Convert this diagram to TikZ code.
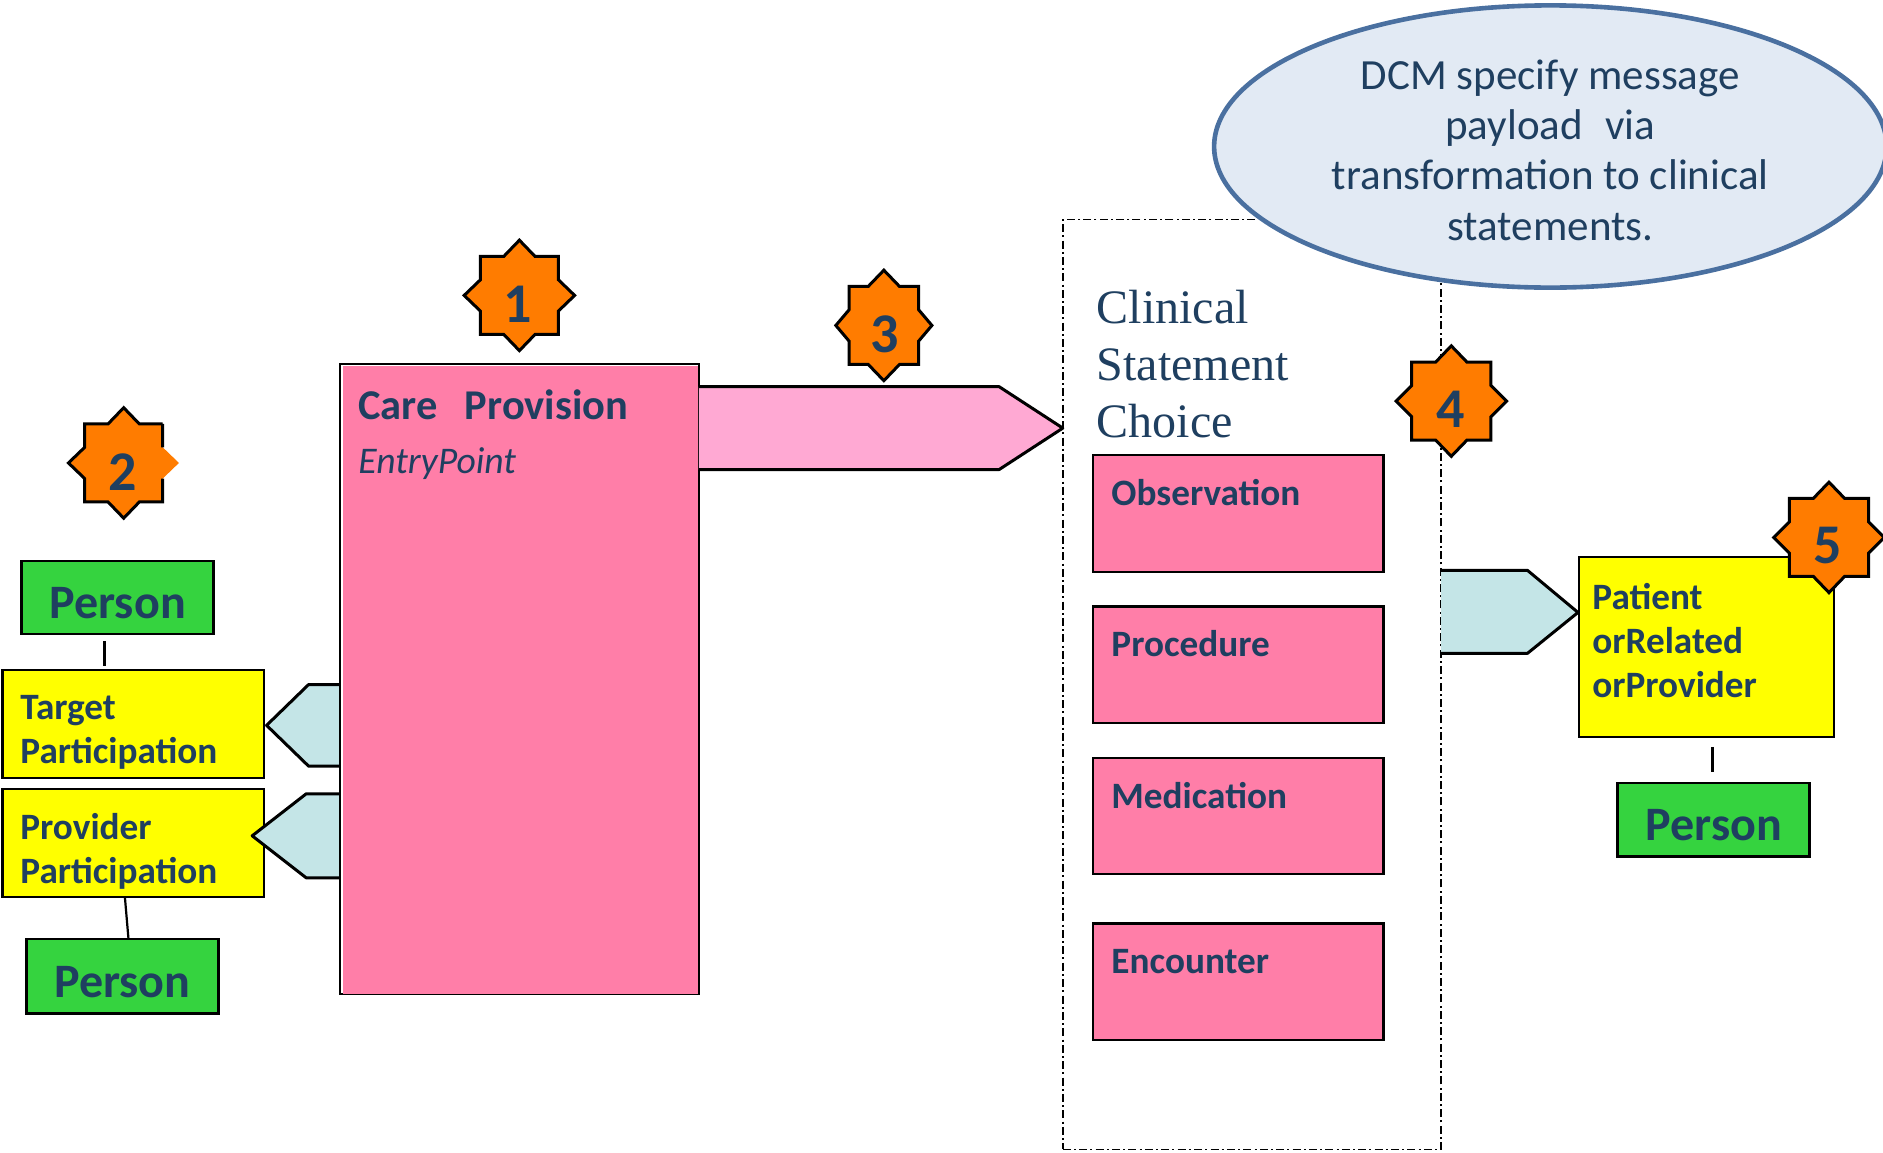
\documentclass[tikz,border=0pt]{standalone}
\usepackage{fontspec}
\usetikzlibrary{shapes.geometric}
\setmainfont{Carlito}
\newfontfamily\serifface{Liberation Serif}
\definecolor{inkblue}{HTML}{1F3F60}
\definecolor{carepink}{HTML}{FF7EA8}
\definecolor{lightpink}{HTML}{FFA9D3}
\definecolor{paleteal}{HTML}{C4E5E7}
\definecolor{persongreen}{HTML}{35D33F}
\definecolor{badgeorange}{HTML}{FF7C00}
\definecolor{calloutfill}{HTML}{E2EAF4}
\definecolor{calloutline}{HTML}{4A70A0}
\definecolor{boxyellow}{HTML}{FFFF00}
\tikzset{
  x=0.6pt,y=-0.6pt,
  pinkbox/.style={draw=black,fill=carepink,line width=1.1pt},
  yellowbox/.style={draw=black,fill=boxyellow,line width=1.1pt},
  personbox/.style={draw=black,fill=persongreen,line width=1.3pt,text=inkblue,font=\fontsize{24}{26}\selectfont\bfseries},
  boxlabel/.style={inner sep=0pt,outer sep=0pt,anchor=base west,text=inkblue,font=\fontsize{18.6}{20}\selectfont\bfseries},
  twolabel/.style={inner sep=0pt,outer sep=0pt,anchor=north west,align=left,text=inkblue,font=\fontsize{18.6}{22}\selectfont\bfseries},
  arrowedge/.style={draw=black,line width=1.5pt,line join=round},
  badge/.style={draw=black,line width=1.5pt,fill=badgeorange,line join=miter},
  digit/.style={inner sep=0pt,text=inkblue,font=\fontsize{28}{30}\selectfont\bfseries},
  link/.style={draw=black,line width=1.1pt}
}
% name, style, x1, y1, x2, y2, text
\newcommand{\bx}[7]{\node[#2,inner sep=0pt,outer sep=0pt,rectangle,minimum width={(#5-#3)*0.6pt},minimum height={(#6-#4)*0.6pt},anchor=north west] (#1) at (#3,#4) {#7};}
\newcommand{\personword}{\raisebox{-10.5pt}[0pt][0pt]{Person}}
% cx, cy, half width of tips, half of square width
\newcommand{\starpath}[4]{(#1,#2-46) -- (#1+13,#2-32.5) -- (#1+#4,#2-32.5) -- (#1+#4,#2-13) -- (#1+#3,#2) -- (#1+#4,#2+13) -- (#1+#4,#2+32.5) -- (#1+13,#2+32.5) -- (#1,#2+46) -- (#1-13,#2+32.5) -- (#1-#4,#2+32.5) -- (#1-#4,#2+13) -- (#1-#3,#2) -- (#1-#4,#2-13) -- (#1-#4,#2-32.5) -- (#1-13,#2-32.5) -- cycle}
\begin{document}
\begin{tikzpicture}
\useasboundingbox (0,0) rectangle (1568,960);

% clinical statement frame
\bx{frame}{draw=black,line width=0.7pt,dash pattern=on 4pt off 1.6pt on 1pt off 1.6pt}{885}{183}{1200}{957}{}

% left arrows (their bases are hidden by the care box)
\fill[paleteal] (285,570) -- (257,570) -- (222,604) -- (257,638) -- (285,638) -- cycle;
\draw[arrowedge] (285,570) -- (257,570) -- (222,604) -- (257,638) -- (285,638);

% yellow boxes
\bx{target}{yellowbox}{2}{558}{220}{648}{}
\bx{provider}{yellowbox}{2}{657}{220}{747}{}
\bx{patient}{yellowbox}{1314.5}{464}{1527}{614}{}
\fill[paleteal] (285,661) -- (255,661) -- (210,696) -- (255,731) -- (285,731) -- cycle;
\draw[arrowedge] (285,661) -- (255,661) -- (210,696) -- (255,731) -- (285,731);

% care provision
\bx{care}{draw=black,fill=white,line width=1.1pt}{283}{303}{582}{828}{}
\fill[carepink] (286,305) rectangle (581.5,827.5);

% pink arrow
\fill[lightpink] (582,322) -- (832,322) -- (885,356.5) -- (832,391) -- (582,391) -- cycle;
\draw[arrowedge] (582,322) -- (832,322) -- (885,356.5) -- (832,391) -- (582,391);

% teal arrow to patient box
\fill[paleteal] (1200,475) -- (1272,475) -- (1314,510) -- (1272,544) -- (1200,544) -- cycle;
\draw[arrowedge] (1200,475) -- (1272,475) -- (1314,510) -- (1272,544) -- (1200,544);

% pink choice boxes
\bx{obs}{pinkbox}{910}{379}{1152}{476}{}
\bx{proc}{pinkbox}{910}{505}{1152}{602}{}
\bx{med}{pinkbox}{910}{631}{1152}{728}{}
\bx{enc}{pinkbox}{910}{769}{1152}{866}{}
\node[boxlabel] (obsl) at (925.5,421) {Observation};
\node[boxlabel] (procl) at (925.5,547) {Procedure};
\node[boxlabel] (medl) at (925.5,673) {Medication};
\node[boxlabel] (encl) at (925.5,811) {Encounter};

% persons
\bx{personA}{personbox}{18}{467}{178}{528}{\personword}
\bx{personB}{personbox}{22}{782}{182}{844}{\personword}
\bx{personC}{personbox}{1347}{652}{1507}{713}{\personword}
\coordinate (la1) at (87,534); \coordinate (la2) at (87,555);
\draw[link] (la1) -- (la2);
\coordinate (lb1) at (104,747); \coordinate (lb2) at (107,782);
\draw[link] (lb1) -- (lb2);
\coordinate (lc1) at (1426,622); \coordinate (lc2) at (1426,643);
\draw[link] (lc1) -- (lc2);

% labels
\node[twolabel] (targetl) at (17,579) {Target\\Participation};
\node[twolabel] (providerl) at (17,677) {Provider\\Participation};
\node[twolabel] (patientl) at (1326,486) {Patient\\orRelated\\orProvider};
\node[inner sep=0pt,anchor=base west,text=inkblue,font=\fontsize{21.2}{24}\selectfont\bfseries] (carel) at (298,349) {Care\hspace{0.42em} Provision};
\node[inner sep=0pt,anchor=base west,text=inkblue,font=\fontsize{18.8}{20}\selectfont\itshape] (entryl) at (298,394) {EntryPoint};
\node[inner sep=0pt,anchor=north west,align=left,text=inkblue,font=\fontsize{24}{28.5}\selectfont\serifface] (choicel) at (913,241) {Clinical\\Statement\\Choice};

% callout
\node[draw=calloutline,fill=calloutfill,line width=2.3pt,ellipse,inner sep=0pt,minimum width={560*0.6pt},minimum height={235*0.6pt}] (callout) at (1291,122) {};
\node[inner sep=0pt,align=center,text=inkblue,font=\fontsize{21.5}{25.2}\selectfont] (calloutl) at (1291,125) {DCM specify message\\payload\hspace{0.3em} via\\transformation to clinical\\statements.};

% badges
\draw[badge] \starpath{432.5}{246}{46}{32.5};
\node[digit] (b1) at (431.5,253) {1};
\fill[badgeorange] \starpath{103}{385.5}{46}{32.5};
\draw[badge] (135.5,353) -- (135.5,372.5) (135.5,398.5) -- (135.5,418) -- (116,418) -- (103,431.5) -- (90,418) -- (70.5,418) -- (70.5,398.5) -- (57,385.5) -- (70.5,372.5) -- (70.5,353) -- (90,353) -- (103,339.5) -- (116,353) -- (135.5,353);
\node[digit] (b2) at (102,393) {2};
\draw[badge] \starpath{736}{271}{40}{29};
\node[digit] (b3) at (736.5,278) {3};
\draw[badge] \starpath{1208.5}{334}{46}{33};
\node[digit] (b4) at (1208,341) {4};
\draw[badge] \starpath{1523}{447.5}{46}{33};
\node[digit] (b5) at (1522,454) {5};
\end{tikzpicture}
\end{document}
